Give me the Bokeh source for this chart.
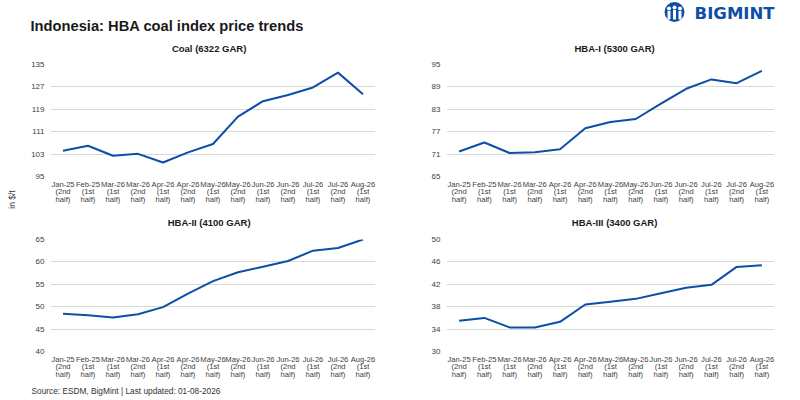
from math import pi

from bokeh.plotting import figure
from bokeh.layouts import column, row
from bokeh.models import Range1d, FixedTicker
from bokeh.core.properties import value
from bokeh.embed import file_html
from bokeh.resources import INLINE

# half-month periods on the x axis
periods = ["Jan-25\n(2nd\nhalf)", "Feb-25\n(1st\nhalf)", "Mar-26\n(1st\nhalf)",
           "Mar-26\n(2nd\nhalf)", "Apr-26\n(1st\nhalf)", "Apr-26\n(2nd\nhalf)",
           "May-26\n(1st\nhalf)", "May-26\n(2nd\nhalf)", "Jun-26\n(1st\nhalf)",
           "Jun-26\n(2nd\nhalf)", "Jul-26\n(1st\nhalf)", "Jul-26\n(2nd\nhalf)",
           "Aug-26\n(1st\nhalf)"]

# HBA prices, $/t
coal_6322 = [104.2, 106.0, 102.4, 103.1, 100.0, 103.6, 106.6, 116.4, 121.9, 124.1, 126.8, 132.1, 124.4]
hba1_5300 = [71.7, 74.1, 71.3, 71.5, 72.3, 77.9, 79.6, 80.4, 84.5, 88.5, 91.0, 90.0, 93.3]
hba2_4100 = [48.4, 48.1, 47.6, 48.3, 49.9, 52.9, 55.7, 57.7, 58.9, 60.2, 62.5, 63.1, 65.0]
hba3_3400 = [35.5, 36.0, 34.3, 34.3, 35.3, 38.4, 38.9, 39.4, 40.4, 41.4, 41.9, 45.1, 45.4]

coal_ticks = [95, 103, 111, 119, 127, 135]
hba1_ticks = [65, 71, 77, 83, 89, 95]
hba2_ticks = [40, 45, 50, 55, 60, 65]
hba3_ticks = [30, 34, 38, 42, 46, 50]

BLUE = "#0d4ea6"
FONT = "Liberation Sans"


def blank(w, h):
    f = figure(width=w, height=h, x_range=Range1d(0, w), y_range=Range1d(0, h),
               output_backend="svg", toolbar_location=None, min_border=0)
    f.axis.visible = False
    f.grid.grid_line_color = None
    f.outline_line_color = None
    return f


def panel_title(text, w, cx):
    t = blank(w, 20)
    t.text(x=[cx], y=[10], text=[text], text_font=value(FONT), text_font_size="9.5px",
           text_font_style="bold", text_color="#1a1a1a",
           text_align="center", text_baseline="middle")
    return t


def panel(vals, ticks, w, h, bl, br, bt, bb):
    p = figure(width=w, height=h, x_range=periods, y_range=Range1d(ticks[0], ticks[-1]),
               output_backend="svg", toolbar_location=None,
               min_border_left=bl, min_border_right=br, min_border_top=bt, min_border_bottom=bb)

    p.line(periods, vals, line_width=2, color=BLUE)

    p.yaxis.ticker = FixedTicker(ticks=ticks)
    p.axis.axis_line_color = None
    p.axis.major_tick_line_color = None
    p.axis.minor_tick_line_color = None
    p.axis.major_tick_out = 0
    p.axis.minor_tick_out = 0
    p.axis.major_label_text_font = FONT
    p.axis.major_label_text_color = "#404040"
    p.yaxis.major_label_text_font_size = "8px"
    p.xaxis.major_label_text_font_size = "7.6px"
    p.yaxis.major_label_standoff = 6
    p.xaxis.major_label_standoff = 3
    p.xaxis.major_label_text_line_height = 0.85
    p.xgrid.grid_line_color = None
    p.ygrid.grid_line_color = "#d9d9d9"
    p.ygrid.grid_line_width = 1
    p.outline_line_color = None
    return p


tl = column(panel_title("Coal (6322 GAR)", 378, 184.5),
            panel(coal_6322, coal_ticks, 378, 154, 28, 25, 6, 36))
tr = column(panel_title("HBA-I (5300 GAR)", 400, 205),
            panel(hba1_5300, hba1_ticks, 400, 154, 46, 26, 6, 36))
bl = column(panel_title("HBA-II (4100 GAR)", 378, 184.5),
            panel(hba2_4100, hba2_ticks, 378, 151, 28, 25, 7, 32))
br = column(panel_title("HBA-III (3400 GAR)", 400, 205),
            panel(hba3_3400, hba3_ticks, 400, 151, 46, 26, 7, 32))

# header: title and logo
head = blank(800, 38)
head.text(x=[30], y=[13], text=["Indonesia: HBA coal index price trends"],
          text_font=value(FONT), text_font_size="14.7px", text_font_style="bold",
          text_color="#1a1a1a", text_baseline="middle")
head.circle(x=[674], y=[26.5], radius=10, fill_color=BLUE, line_color=None)
head.circle(x=[668.5, 674, 679.5], y=[30, 31, 30], radius=2, fill_color="white", line_color=None)
head.quad(left=[667, 672.5, 678], right=[670, 675.5, 681],
          bottom=[19, 19, 19], top=[27.5, 28.5, 27.5], fill_color="white", line_color=None)
head.text(x=[774], y=[25.5], text=["BIGMINT"], text_font=value("DejaVu Sans"),
          text_font_size="16.5px", text_font_style="bold", text_color=BLUE,
          text_align="right", text_baseline="middle")

# shared y label
strip = blank(22, 345)
strip.text(x=[11], y=[184], text=["in $/t"], angle=pi / 2, text_font=value(FONT),
           text_font_size="8.5px", text_color="#333333",
           text_align="center", text_baseline="middle")

# source line
foot = blank(800, 17)
foot.text(x=[31], y=[10], text=["Source: ESDM, BigMint | Last updated: 01-08-2026"],
          text_font=value(FONT), text_font_size="8.3px", text_color="#333333",
          text_baseline="middle")

layout = column(head, row(strip, column(row(tl, tr), row(bl, br))), foot)

open("out.html", "w").write(file_html(layout, INLINE))
